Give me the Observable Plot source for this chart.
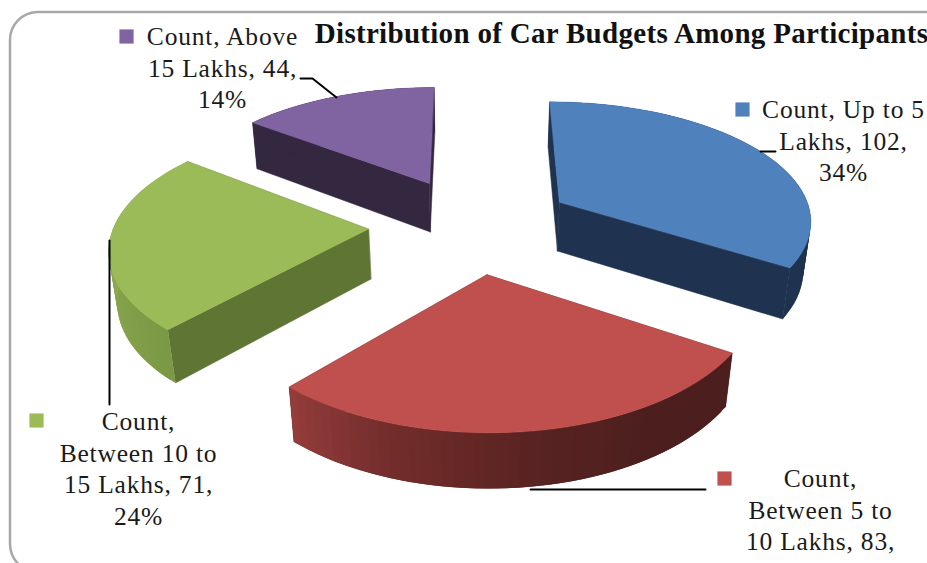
<!DOCTYPE html>
<html>
<head>
<meta charset="utf-8">
<script src="https://cdn.jsdelivr.net/npm/d3@7"></script>
<script src="https://cdn.jsdelivr.net/npm/@observablehq/plot@0.6"></script>
<style>
  html, body { margin: 0; padding: 0; background: #fff; overflow: hidden; }
  svg { display: block; }
</style>
</head>
<body>
<div id="chart"></div>
<script>
// Car budget survey: responses per budget band
const categories = ["Up to 5 Lakhs", "Between 5 to 10 Lakhs", "Between 10 to 15 Lakhs", "Above 15 Lakhs"];
const counts = [102, 83, 71, 44];
const percents = [34, 28, 24, 14];
const topColours = ["#4f81bd", "#c0504d", "#9bbb59", "#8064a2"];
const sideColours = ["#1f3350", "#4c1f1e", "#5f7534", "#33283f"];
const rimRamps = [
  ["#1f3350", "#1f3350"],
  ["#4c1f1e", "#4c1f1e", "#592322", "#702c2a", "#933c3a"],
  ["#7b9845", "#8cab50", "#9bbb59"],
  ["#33283f", "#33283f"]
];
const explodes = [0.4, 0.4, 0.41, 0.4];
const titleText = "Distribution of Car Budgets Among Participants";

// Data labels, broken across lines the way the chart wraps them
const labelTexts = [
  `Count, Up to 5\nLakhs, ${counts[0]},\n${percents[0]}%`,
  `Count,\nBetween 5 to\n10 Lakhs, ${counts[1]},`,
  `Count,\nBetween 10 to\n15 Lakhs, ${counts[2]},\n${percents[2]}%`,
  `Count, Above\n15 Lakhs, ${counts[3]},\n${percents[3]}%`
];
const labelX = [843, 820, 138, 222];
const labelY = [95, 464, 407, 22];
const swatchX = [742, 724, 36, 126];
const swatchY = [109, 478, 420, 36];
const leaders = [
  [[760, 151], [775, 151]],
  [[530, 489], [705, 489]],
  [[109, 240], [109, 404]],
  [[300, 78], [312, 78], [336, 97]]
];

// Perspective camera over the pie's plane; the radius is 1 and the depth is 1
const cam = {x0: 472, y0: 224, a: 254, b: 120, c: 51, kx: 0.13, kz: 0.14, m: 0.023};
function project(px, pz, depth) {
  return {
    x: cam.x0 + cam.a * px / (1 + cam.kx * pz + cam.m * depth),
    y: cam.y0 + (-cam.b * pz + cam.c * depth) / (1 + cam.kz * pz + cam.m * depth)
  };
}

const slices = d3.pie().sort(null)(counts).map((s, i) => {
  const mid = (s.startAngle + s.endAngle) / 2;
  return {i, a0: s.startAngle, a1: s.endAngle, cx: explodes[i] * Math.sin(mid), cz: explodes[i] * Math.cos(mid)};
});
const rim = (s, a) => [s.cx + Math.sin(a), s.cz + Math.cos(a)];

const sides = [], rims = [], tops = [];
function addFace(rows, id, fill, corners) {
  for (const [px, pz, depth] of corners) rows.push({id, fill, ...project(px, pz, depth)});
}

for (const s of slices) {
  const side = sideColours[s.i];
  const [sx, sz] = rim(s, s.a0);
  const [ex, ez] = rim(s, s.a1);
  addFace(sides, `s0-${s.i}`, side, [[s.cx, s.cz, 0], [sx, sz, 0], [sx, sz, 1], [s.cx, s.cz, 1]]);
  addFace(sides, `s1-${s.i}`, side, [[s.cx, s.cz, 0], [ex, ez, 0], [ex, ez, 1], [s.cx, s.cz, 1]]);

  // The curved wall is a run of overlapping strips so its shading has no seams
  const steps = 48;
  const angles = d3.range(0, steps + 1).map(t => s.a0 + (s.a1 - s.a0) * t / steps);
  const ramp = d3.piecewise(d3.interpolateRgb, rimRamps[s.i]);
  for (let n = 0; n < steps; n++) {
    const [ax, az] = rim(s, angles[n]);
    const [bx, bz] = rim(s, angles[Math.min(n + 2, steps)]);
    addFace(rims, `r-${s.i}-${n}`, d3.color(ramp(n / (steps - 1))).formatHex(),
      [[ax, az, 0], [bx, bz, 0], [bx, bz, 1], [ax, az, 1]]);
  }
  addFace(tops, `t-${s.i}`, topColours[s.i], [[s.cx, s.cz, 0], ...angles.map(a => [...rim(s, a), 0])]);
}

const leaderRows = leaders.flatMap((pts, id) => pts.map(([x, y]) => ({id, x, y})));
const labels = labelTexts.map((text, i) => ({text, x: labelX[i], y: labelY[i]}));
const swatches = topColours.map((fill, i) => ({fill, x: swatchX[i], y: swatchY[i]}));

const chart = Plot.plot({
  width: 927,
  height: 563,
  margin: 0,
  x: {domain: [0, 927], range: [0, 927], axis: null},
  y: {domain: [0, 563], range: [0, 563], axis: null},
  color: {type: "identity"},
  marks: [
    Plot.rect([{x1: 10, x2: 960, y1: 12, y2: 572}], {
      x1: "x1", x2: "x2", y1: "y1", y2: "y2", rx: 28,
      fill: "white", stroke: "#a8a8a8", strokeWidth: 2.5
    }),
    Plot.line(sides, {x: "x", y: "y", z: "id", fill: "fill", stroke: "fill", strokeWidth: 0.5, curve: "linear-closed"}),
    Plot.line(rims, {x: "x", y: "y", z: "id", fill: "fill", stroke: "none", curve: "linear-closed"}),
    Plot.line(tops, {x: "x", y: "y", z: "id", fill: "fill", stroke: "fill", strokeWidth: 0.5, curve: "linear-closed"}),
    Plot.line(leaderRows, {x: "x", y: "y", z: "id", stroke: "#000", strokeWidth: 2, curve: "linear"}),
    Plot.dot(swatches, {x: "x", y: "y", symbol: "square", r: 8, fill: "fill", stroke: "none"}),
    Plot.text(labels, {
      x: "x", y: "y", text: "text", lineAnchor: "top", lineHeight: 1.24,
      textAnchor: "middle", fontFamily: "Liberation Serif", fontSize: 25.5, fill: "#1a1a1a"
    }),
    Plot.text([titleText], {
      x: [621], y: [33], text: d => d, textAnchor: "middle",
      fontFamily: "Liberation Serif", fontWeight: "bold", fontSize: 29, fill: "#111"
    })
  ]
});

// Letter spacing brings the serif's line widths up to the label layout
const textGroups = chart.querySelectorAll('g[aria-label="text"]');
textGroups[0].style.letterSpacing = "0.8px";
textGroups[1].style.letterSpacing = "0.3px";
document.getElementById("chart").append(chart);
</script>
</body>
</html>
